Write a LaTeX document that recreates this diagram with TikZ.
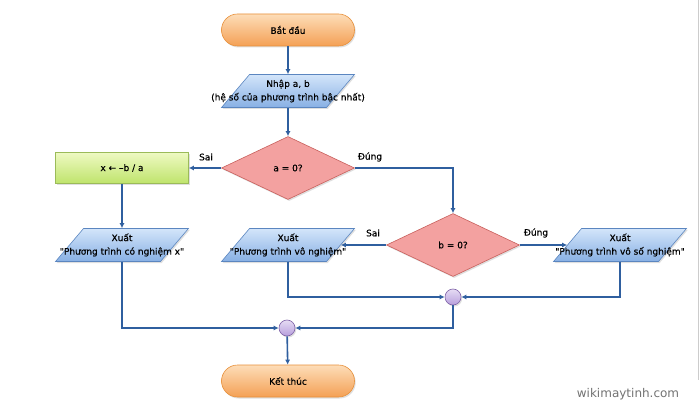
\documentclass[tikz,border=0pt]{standalone}
\usepackage{fontspec}
\setmainfont{DejaVu Sans}
\newfontfamily\diafont{DejaVu Sans}[FakeBold=0.35]
\usetikzlibrary{shapes.geometric,arrows.meta,shadows}
\definecolor{lineblue}{HTML}{2F5F9F}
\definecolor{termtop}{HTML}{FDDDB8}
\definecolor{termbot}{HTML}{F4A055}
\definecolor{termdraw}{HTML}{E8903A}
\definecolor{iotop}{HTML}{D3E5FA}
\definecolor{iobot}{HTML}{88B0E4}
\definecolor{iodraw}{HTML}{5B86C0}
\definecolor{decfill}{HTML}{F3A1A0}
\definecolor{decdraw}{HTML}{C8605C}
\definecolor{proctop}{HTML}{EEF9C2}
\definecolor{procbot}{HTML}{BFE46C}
\definecolor{procdraw}{HTML}{9BBB59}
\definecolor{jtop}{HTML}{E6DCF4}
\definecolor{jbot}{HTML}{B79FDC}
\definecolor{jdraw}{HTML}{7F63A8}
\tikzset{
  txt/.style={font=\diafont\fontsize{9}{13.5}\selectfont, text=black, align=center},
  shade/.style={drop shadow={shadow xshift=1.2pt, shadow yshift=-1.5pt, opacity=0.25}},
  term/.style={txt, shade, rectangle, rounded corners=16pt, minimum width=133pt, minimum height=32pt,
     top color=termtop, bottom color=termbot, draw=termdraw, line width=0.6pt},
  iobox/.style={shade, trapezium, trapezium left angle=70, trapezium right angle=110,
     trapezium stretches=true, minimum width=133pt, minimum height=33pt, inner sep=3pt,
     top color=iotop, bottom color=iobot, draw=iodraw, line width=0.6pt},
  iotext/.style={label={[txt, inner sep=0pt]center:{#1}}},
  decision/.style={txt, shade, diamond, minimum width=133pt, minimum height=63pt, inner sep=0pt,
     fill=decfill, draw=decdraw, line width=0.6pt},
  procbox/.style={txt, shade, rectangle, minimum width=133pt, minimum height=31pt,
     top color=proctop, bottom color=procbot, draw=procdraw, line width=0.6pt},
  junction/.style={shade, circle, minimum size=16pt, inner sep=0pt,
     top color=jtop, bottom color=jbot, draw=jdraw, line width=0.6pt},
  conn/.style={draw=lineblue, line width=1.6pt, -{Latex[length=5pt,width=5pt]}},
  lbl/.style={txt}
}
\begin{document}
\begin{tikzpicture}[x=1pt,y=-1pt]
\useasboundingbox (0,0) rectangle (700,411);
\fill[white] (0,0) rectangle (700,411);
\draw[black!20, line width=0.8pt] (698,0) -- (698,380);

\node[term] (start) at (288,30) {Bắt đầu};
\node[iobox, iotext={Nhập a, b\\(hệ số của phương trình bậc nhất)}] (in1) at (288,91) {};
\node[decision] (da) at (288,168) {a = 0?};
\node[procbox] (calc) at (122,168) {x ← –b / a};
\node[decision] (db) at (453,245) {b = 0?};
\node[iobox, iotext={Xuất\\"Phương trình có nghiệm x"}] (out1) at (122,245) {};
\node[iobox, iotext={Xuất\\"Phương trình vô nghiệm"}] (out2) at (288,245) {};
\node[iobox, iotext={Xuất\\"Phương trình vô số nghiệm"}] (out3) at (620,245) {};
\node[junction] (c1) at (453,297) {};
\node[junction] (c2) at (287,328) {};
\node[term] (end) at (288,381) {Kết thúc};

\draw[conn] (start) -- (in1);
\draw[conn] (in1) -- (da);
\draw[conn] (da.west) -- (calc.east);
\draw[conn] (da.east) -| (db.north);
\draw[conn] (calc) -- (out1);
\draw[conn] (db.west) -- (out2.east);
\draw[conn] (db.east) -- (out3.west);
\draw[conn] (out2.south) |- (c1.west);
\draw[conn] (out3.south) |- (c1.east);
\draw[conn] (out1.south) |- (c2.west);
\draw[conn] (c1.south) |- (c2.east);
\draw[conn] (c2) -- (end);

\node[lbl] (l1) at (206,157) {Sai};
\node[lbl] (l2) at (370,157) {Đúng};
\node[lbl] (l3) at (373,233) {Sai};
\node[lbl] (l4) at (536,233) {Đúng};

\node[font=\fontsize{12}{14}\selectfont, text=black!55] (wm) at (628,394) {wikimaytinh.com};
\end{tikzpicture}
\end{document}
